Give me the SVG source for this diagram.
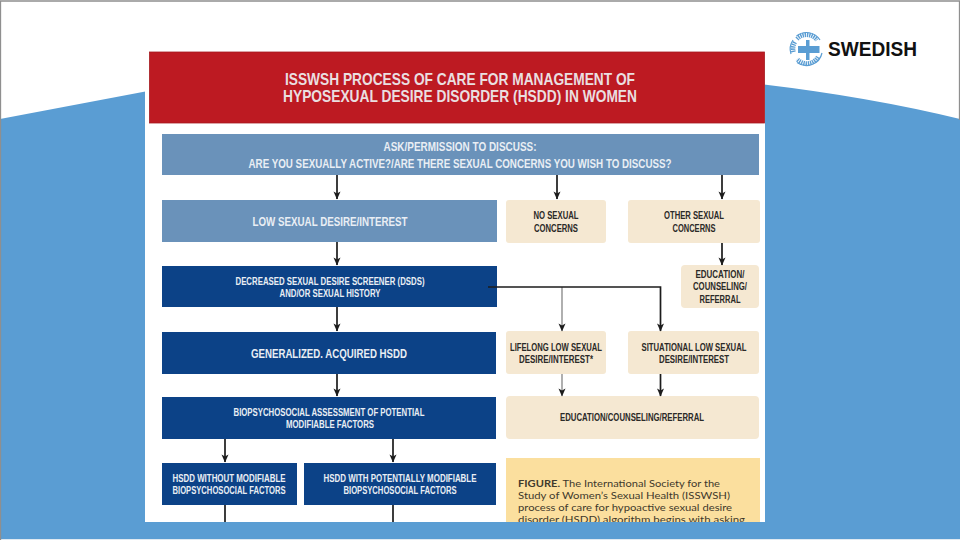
<svg xmlns="http://www.w3.org/2000/svg" width="960" height="540" viewBox="0 0 960 540">
<defs>
<marker id="ah" markerUnits="userSpaceOnUse" markerWidth="9" markerHeight="8" refX="8" refY="4" orient="auto" viewBox="0 0 9 8"><path d="M0.500 0.500L2.500 4L0.500 7.500L8.500 4Z" fill="#1c1c1c"/></marker>
<style>
text{font-family:"Liberation Sans",Arial,sans-serif;text-anchor:middle}
.b{fill:#6a92ba}.n{fill:#0c4287}.t{fill:#f5e8d2}
.w{fill:#e9eef4;font-weight:700}.k{fill:#2b2a28;font-weight:700}
.s{font-size:10.4px}.m{font-size:12.6px}
.c{stroke:#1c1c1c;stroke-width:1.7;fill:none}
.g{stroke:#8e8e8e;stroke-width:1.4;fill:none}
.f{font-family:Lato,"Noto Sans",sans-serif;font-size:10px;fill:#3f392c;text-anchor:start}
</style>
<clipPath id="fc"><rect x="506" y="458" width="254" height="64"/></clipPath>
</defs>
<rect width="960" height="540" fill="#fff"/>
<path id="bg" d="M0 119L148 91L760 84Q870 97 960 119V539H0Z" fill="#5a9dd3"/>
<rect x="0" y="539" width="960" height="1" fill="#dfe9f1"/>
<path d="M0.500 540V1H959.500V120" fill="none" stroke="#8f8f8f" stroke-width="1.3"/>
<rect x="145" y="44" width="620" height="478" fill="#fff"/>
<g id="title"><rect x="149.500" y="52" width="615" height="71" fill="#bd1a22" stroke="#a51b20" stroke-width="0.8"/>
<text x="460" y="85" fill="#eadfe0" font-size="16.5" font-weight="700" textLength="350" lengthAdjust="spacingAndGlyphs">ISSWSH PROCESS OF CARE FOR MANAGEMENT OF</text>
<text x="460" y="102" fill="#eadfe0" font-size="16.5" font-weight="700" textLength="354" lengthAdjust="spacingAndGlyphs">HYPOSEXUAL DESIRE DISORDER (HSDD) IN WOMEN</text></g>
<g id="ask"><rect class="b" x="162" y="134" width="597" height="41"/>
<text class="w m" x="460" y="151" textLength="153" lengthAdjust="spacingAndGlyphs">ASK/PERMISSION TO DISCUSS:</text>
<text class="w m" x="460" y="168" textLength="423" lengthAdjust="spacingAndGlyphs">ARE YOU SEXUALLY ACTIVE?/ARE THERE SEXUAL CONCERNS YOU WISH TO DISCUSS?</text></g>
<g id="low"><rect class="b" x="162" y="200" width="335" height="42"/>
<text class="w m" x="330" y="226" textLength="155" lengthAdjust="spacingAndGlyphs">LOW SEXUAL DESIRE/INTEREST</text></g>
<g id="noconcern"><rect class="t" x="506" y="200" width="100" height="43" rx="3"/>
<text class="k s" x="556" y="219" textLength="45" lengthAdjust="spacingAndGlyphs">NO SEXUAL</text><text class="k s" x="556" y="232" textLength="44" lengthAdjust="spacingAndGlyphs">CONCERNS</text></g>
<g id="other"><rect class="t" x="628" y="200" width="132" height="43" rx="3"/>
<text class="k s" x="694" y="219" textLength="60" lengthAdjust="spacingAndGlyphs">OTHER SEXUAL</text><text class="k s" x="694" y="232" textLength="43" lengthAdjust="spacingAndGlyphs">CONCERNS</text></g>
<g id="edu1"><rect class="t" x="681" y="265" width="78" height="43" rx="4"/>
<text class="k s" x="720" y="278" textLength="49" lengthAdjust="spacingAndGlyphs">EDUCATION/</text><text class="k s" x="720" y="290" textLength="54" lengthAdjust="spacingAndGlyphs">COUNSELING/</text><text class="k s" x="720" y="303" textLength="41" lengthAdjust="spacingAndGlyphs">REFERRAL</text></g>
<g id="dsds"><rect class="n" x="162" y="266" width="335" height="41"/>
<text class="w s" x="330" y="285" textLength="189" lengthAdjust="spacingAndGlyphs">DECREASED SEXUAL DESIRE SCREENER (DSDS)</text><text class="w s" x="330" y="297" textLength="101" lengthAdjust="spacingAndGlyphs">AND/OR SEXUAL HISTORY</text></g>
<g id="gen"><rect class="n" x="162" y="332" width="334" height="42"/>
<text class="w m" x="329" y="358" textLength="156" lengthAdjust="spacingAndGlyphs">GENERALIZED. ACQUIRED HSDD</text></g>
<g id="bio"><rect class="n" x="162" y="397" width="334" height="42"/>
<text class="w s" x="329" y="416" textLength="191" lengthAdjust="spacingAndGlyphs">BIOPSYCHOSOCIAL ASSESSMENT OF POTENTIAL</text><text class="w s" x="330" y="428" textLength="88" lengthAdjust="spacingAndGlyphs">MODIFIABLE FACTORS</text></g>
<g id="without"><rect class="n" x="162" y="463" width="135" height="42"/>
<text class="w s" x="229" y="482" textLength="113" lengthAdjust="spacingAndGlyphs">HSDD WITHOUT MODIFIABLE</text><text class="w s" x="229" y="494" textLength="113" lengthAdjust="spacingAndGlyphs">BIOPSYCHOSOCIAL FACTORS</text></g>
<g id="with"><rect class="n" x="304" y="463" width="192" height="42"/>
<text class="w s" x="400" y="482" textLength="153" lengthAdjust="spacingAndGlyphs">HSDD WITH POTENTIALLY MODIFIABLE</text><text class="w s" x="400" y="494" textLength="113" lengthAdjust="spacingAndGlyphs">BIOPSYCHOSOCIAL FACTORS</text></g>
<g id="lifelong"><rect class="t" x="506" y="331" width="100" height="43" rx="3"/>
<text class="k s" x="556" y="351" textLength="92" lengthAdjust="spacingAndGlyphs">LIFELONG LOW SEXUAL</text><text class="k s" x="556" y="363" textLength="74" lengthAdjust="spacingAndGlyphs">DESIRE/INTEREST*</text></g>
<g id="situational"><rect class="t" x="628" y="331" width="131" height="43" rx="3"/>
<text class="k s" x="694" y="351" textLength="105" lengthAdjust="spacingAndGlyphs">SITUATIONAL LOW SEXUAL</text><text class="k s" x="694" y="363" textLength="70" lengthAdjust="spacingAndGlyphs">DESIRE/INTEREST</text></g>
<g id="edu2"><rect class="t" x="506" y="396" width="253" height="43" rx="4"/>
<text class="k s" x="632" y="421" textLength="144" lengthAdjust="spacingAndGlyphs">EDUCATION/COUNSELING/REFERRAL</text></g>
<g id="figure"><rect x="506" y="458" width="254" height="64" fill="#fbdf9e"/>
<g clip-path="url(#fc)">
<text class="f" x="518" y="487" textLength="202" lengthAdjust="spacingAndGlyphs"><tspan font-weight="700">FIGURE.</tspan> The International Society for the</text>
<text class="f" x="518" y="499" textLength="212" lengthAdjust="spacingAndGlyphs">Study of Women’s Sexual Health (ISSWSH)</text>
<text class="f" x="518" y="511" textLength="214" lengthAdjust="spacingAndGlyphs">process of care for hypoactive sexual desire</text>
<text class="f" x="518" y="523" textLength="227" lengthAdjust="spacingAndGlyphs">disorder (HSDD) algorithm begins with asking</text>
</g></g>
<g id="connectors">
<path class="c" d="M337 175V199" marker-end="url(#ah)"/>
<path class="c" d="M337 242V265" marker-end="url(#ah)"/>
<path class="c" d="M337 307V331" marker-end="url(#ah)"/>
<path class="c" d="M337 374V396" marker-end="url(#ah)"/>
<path class="c" d="M225 439V462" marker-end="url(#ah)"/>
<path class="c" d="M393 439V462" marker-end="url(#ah)"/>
<path class="c" d="M225 505V522"/>
<path class="c" d="M393 505V522"/>
<path class="c" d="M557 175V199" marker-end="url(#ah)"/>
<path class="c" d="M722 175V199" marker-end="url(#ah)"/>
<path class="c" d="M722 243V265" marker-end="url(#ah)"/>
<path class="g" d="M562 287V331" marker-end="url(#ah)"/>
<path class="g" d="M562 374V396" marker-end="url(#ah)"/>
<path class="c" d="M488 287H660.500V331" marker-end="url(#ah)"/>
<path class="c" d="M660.500 374V396" marker-end="url(#ah)"/>
</g>
<g id="logo">
<path d="M796.500 36A16 16 0 0 1 820 40M822 53A16 16 0 0 1 797 62.500M791 54A16 16 0 0 1 793 40" fill="none" stroke="#5a9dd3" stroke-width="1.200"/>
<path d="M797 39A13 13 0 0 1 817 40M818 57A13 13 0 0 1 797 59M793.500 52A13 13 0 0 1 795 42" fill="none" stroke="#5a9dd3" stroke-width="4.500" stroke-dasharray="1.400 .8"/>
<path d="M798 46h8v-6h3.500v6h10v7h-10v7h-3.500v-7h-8z" fill="#5a9dd3"/>
<text x="872.500" y="56" fill="#111" font-size="21" font-weight="700" textLength="89" lengthAdjust="spacingAndGlyphs">SWEDISH</text></g>
</svg>
